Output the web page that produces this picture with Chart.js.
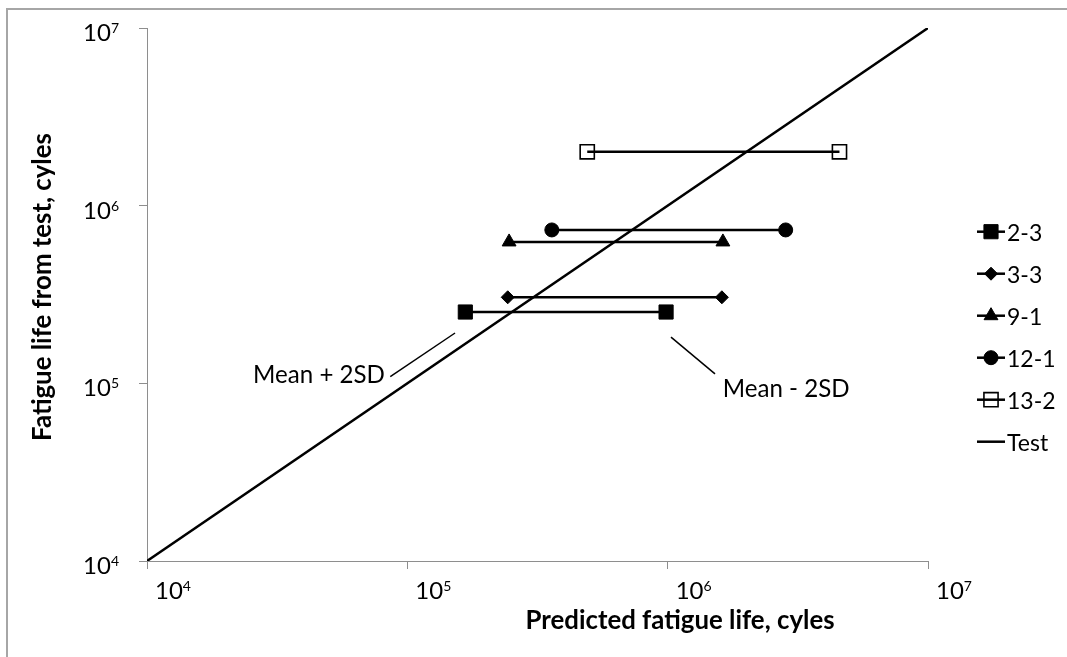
<!DOCTYPE html>
<html>
<head>
<meta charset="utf-8">
<script src="https://cdn.jsdelivr.net/npm/chart.js@4.4.0/dist/chart.umd.min.js"></script>
<style>
  html, body { margin: 0; padding: 0; background: #fff; }
  #wrap { width: 1067px; height: 657px; position: relative; }
  canvas { display: block; }
</style>
</head>
<body>
<div id="wrap"><canvas id="chart" width="1067" height="657"></canvas></div>
<script>
// Specimen names and predicted / measured fatigue lives (cycles)
const specimens = ['2-3', '3-3', '9-1', '12-1', '13-2'];
const predictedMeanPlus2SD = [1.67e5, 2.43e5, 2.46e5, 3.59e5, 4.91e5];
const predictedMeanMinus2SD = [9.86e5, 1.615e6, 1.63e6, 2.84e6, 4.57e6];
const testLife = [2.52e5, 3.05e5, 6.25e5, 7.3e5, 2.01e6];

// Line of equality (predicted = test)
const equalityX = [1e4, 1e7];
const equalityY = [1e4, 1e7];

// Decade ticks and their exponents
const decadeTicks = [1e4, 1e5, 1e6, 1e7];
const decadeExponents = ['4', '5', '6', '7'];

// Marker styles per specimen
const markerStyles = ['rect', 'rectRot', 'triangle', 'circle', 'rect'];
const markerRadii = [10, 6.5, 8, 7, 10];
const markerFills = ['#000', '#000', '#000', '#000', 'rgba(0,0,0,0)'];
const markerBorders = [1, 1, 1, 1, 1.6];

// Callout labels with leader lines, in data coordinates
const callouts = [
  { text: 'Mean + 2SD', align: 'right', textAt: [8.2e4, 1.114e5], from: [8.6e4, 1.09e5], to: [1.525e5, 1.92e5] },
  { text: 'Mean - 2SD', align: 'left', textAt: [1.628e6, 9.3e4], from: [1.03e6, 1.82e5], to: [1.52e6, 1.13e5] }
];

const FONT = "Lato, 'Open Sans', 'DejaVu Sans', sans-serif";
const AXIS_GRAY = '#8e8e8e';

// Font size that makes a string span the given width
function fitSize(ctx, text, weight, width) {
  ctx.font = weight + ' 20px ' + FONT;
  return 20 * width / ctx.measureText(text).width;
}

const datasets = specimens.map((name, i) => ({
  label: name,
  data: [
    { x: predictedMeanPlus2SD[i], y: testLife[i] },
    { x: predictedMeanMinus2SD[i], y: testLife[i] }
  ],
  showLine: true,
  borderColor: '#000',
  borderWidth: 2.5,
  pointStyle: markerStyles[i],
  pointRadius: markerRadii[i],
  pointBackgroundColor: markerFills[i],
  pointBorderColor: '#000',
  pointBorderWidth: markerBorders[i]
}));

datasets.push({
  label: 'Test',
  data: equalityX.map((x, i) => ({ x: x, y: equalityY[i] })),
  showLine: true,
  borderColor: '#000',
  borderWidth: 2.5,
  pointRadius: 0
});

// Outer frame of the chart object
const framePlugin = {
  id: 'frame',
  beforeDraw(chart) {
    const ctx = chart.ctx;
    ctx.save();
    ctx.fillStyle = '#fff';
    ctx.fillRect(0, 0, chart.width, chart.height);
    ctx.strokeStyle = '#a6a6a6';
    ctx.lineWidth = 2;
    ctx.beginPath();
    ctx.moveTo(7, chart.height);
    ctx.lineTo(7, 9);
    ctx.lineTo(chart.width, 9);
    ctx.stroke();
    ctx.restore();
  }
};

// Power-of-ten tick labels with superscript exponents
const powerLabelsPlugin = {
  id: 'powerLabels',
  afterDraw(chart) {
    const ctx = chart.ctx;
    const xs = chart.scales.x, ys = chart.scales.y;
    ctx.save();
    ctx.fillStyle = '#000';
    ctx.textBaseline = 'alphabetic';
    ctx.textAlign = 'left';
    decadeTicks.forEach((v, i) => {
      ctx.font = '24px ' + FONT;
      const wBase = ctx.measureText('10').width;
      ctx.font = '14px ' + FONT;
      const wExp = ctx.measureText(decadeExponents[i]).width;

      // y-axis labels, right aligned left of the axis
      const py = ys.getPixelForValue(v);
      const xEnd = ys.left - 20;
      ctx.font = '24px ' + FONT;
      ctx.fillText('10', xEnd - wExp - wBase, py + 13);
      ctx.font = '14px ' + FONT;
      ctx.fillText(decadeExponents[i], xEnd - wExp, py + 5);

      // x-axis labels, just right of each tick
      const px = xs.getPixelForValue(v);
      const base = xs.top + 38;
      ctx.font = '24px ' + FONT;
      ctx.fillText('10', px + 8, base);
      ctx.font = '14px ' + FONT;
      ctx.fillText(decadeExponents[i], px + 8 + wBase, base - 8);
    });
    ctx.restore();
  }
};

// Axis titles
const axisTitlesPlugin = {
  id: 'axisTitles',
  afterDraw(chart) {
    const ctx = chart.ctx;
    const xTitle = 'Predicted fatigue life, cyles';
    const yTitle = 'Fatigue life from test, cyles';
    const size = fitSize(ctx, xTitle, 'bold', 309);
    ctx.save();
    ctx.fillStyle = '#000';
    ctx.font = 'bold ' + size.toFixed(1) + 'px ' + FONT;
    ctx.textAlign = 'center';
    ctx.textBaseline = 'middle';
    ctx.fillText(xTitle, 680, 621);
    ctx.translate(43, 287);
    ctx.rotate(-Math.PI / 2);
    ctx.fillText(yTitle, 0, 0);
    ctx.restore();
  }
};

// Callouts with leader lines
const calloutPlugin = {
  id: 'callouts',
  afterDatasetsDraw(chart) {
    const ctx = chart.ctx;
    const xs = chart.scales.x, ys = chart.scales.y;
    const size = fitSize(ctx, callouts[0].text, 'normal', 132);
    ctx.save();
    ctx.strokeStyle = '#000';
    ctx.lineWidth = 1.5;
    ctx.fillStyle = '#000';
    ctx.font = size.toFixed(1) + 'px ' + FONT;
    ctx.textBaseline = 'middle';
    callouts.forEach(c => {
      ctx.beginPath();
      ctx.moveTo(xs.getPixelForValue(c.from[0]), ys.getPixelForValue(c.from[1]));
      ctx.lineTo(xs.getPixelForValue(c.to[0]), ys.getPixelForValue(c.to[1]));
      ctx.stroke();
      ctx.textAlign = c.align;
      ctx.fillText(c.text, xs.getPixelForValue(c.textAt[0]), ys.getPixelForValue(c.textAt[1]));
    });
    ctx.restore();
  }
};

// Legend with line + marker samples
const legendPlugin = {
  id: 'lineLegend',
  afterDraw(chart) {
    const ctx = chart.ctx;
    ctx.save();
    chart.data.datasets.forEach((ds, i) => {
      const y = 231.7 + i * 42;
      ctx.strokeStyle = '#000';
      ctx.lineWidth = 2.5;
      ctx.beginPath();
      ctx.moveTo(977, y);
      ctx.lineTo(1005, y);
      ctx.stroke();
      if (ds.pointRadius > 0) {
        ctx.fillStyle = ds.pointBackgroundColor;
        ctx.strokeStyle = '#000';
        ctx.lineWidth = ds.pointBorderWidth;
        Chart.helpers.drawPoint(ctx, {
          pointStyle: ds.pointStyle,
          radius: ds.pointRadius,
          rotation: 0,
          borderWidth: ds.pointBorderWidth
        }, 991, y);
      }
      ctx.fillStyle = '#000';
      ctx.font = '23px ' + FONT;
      ctx.textAlign = 'left';
      ctx.textBaseline = 'middle';
      ctx.fillText(ds.label, 1007, y + 2);
    });
    ctx.restore();
  }
};

const axisCommon = {
  type: 'logarithmic',
  min: 1e4,
  max: 1e7,
  afterBuildTicks(scale) {
    scale.ticks = decadeTicks.map(v => ({ value: v, major: true }));
  },
  ticks: { display: false },
  grid: { drawOnChartArea: false, drawTicks: true, tickLength: 8, color: AXIS_GRAY, lineWidth: 1 },
  border: { display: true, color: AXIS_GRAY, width: 1 }
};

new Chart(document.getElementById('chart'), {
  type: 'scatter',
  data: { datasets: datasets },
  options: {
    responsive: false,
    animation: false,
    devicePixelRatio: 1,
    layout: { padding: { left: 139, top: 28, right: 139, bottom: 88 } },
    plugins: { legend: { display: false }, tooltip: { enabled: false } },
    scales: {
      x: Object.assign({}, axisCommon, { position: 'bottom' }),
      y: Object.assign({}, axisCommon, { position: 'left' })
    }
  },
  plugins: [framePlugin, powerLabelsPlugin, axisTitlesPlugin, calloutPlugin, legendPlugin]
});
</script>
</body>
</html>
